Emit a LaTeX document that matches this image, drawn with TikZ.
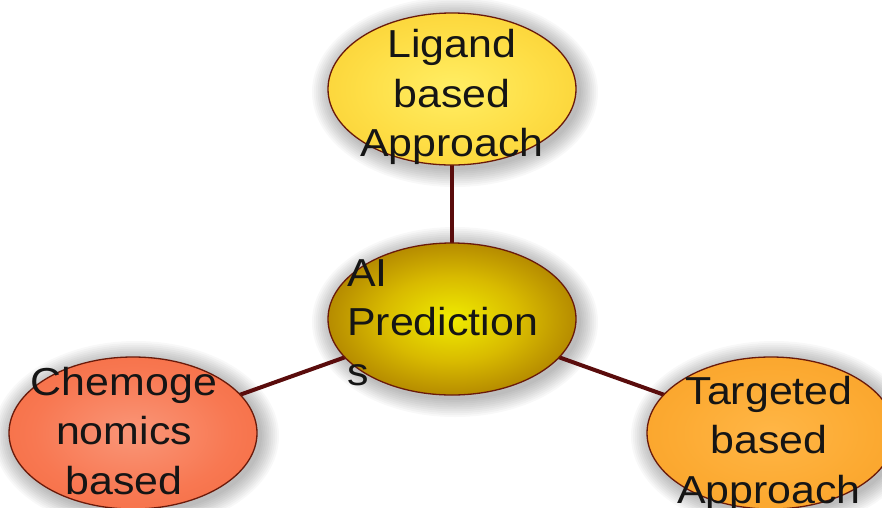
\documentclass[tikz,border=0pt]{standalone}
\usepackage{fontspec}
\setmainfont{Liberation Sans}[FakeStretch=1.1]
\usetikzlibrary{shapes.geometric,backgrounds}

\definecolor{edgecol}{HTML}{6A1A0A}
\definecolor{linkcol}{HTML}{5A0C0C}
\definecolor{inkcol}{HTML}{151515}

% radial fills, scaled to each ellipse (50bp = rim)
\pgfdeclareradialshading{ligfill}{\pgfpoint{0bp}{0bp}}{%
  color(0bp)=(rgb,255:red,255;green,238;blue,100);
  color(18bp)=(rgb,255:red,254;green,222;blue,70);
  color(50bp)=(rgb,255:red,244;green,190;blue,28)}
\pgfdeclareradialshading{aifill}{\pgfpoint{0bp}{0bp}}{%
  color(0bp)=(rgb,255:red,240;green,236;blue,0);
  color(14bp)=(rgb,255:red,216;green,186;blue,0);
  color(32bp)=(rgb,255:red,160;green,110;blue,0);
  color(50bp)=(rgb,255:red,96;green,54;blue,0)}
\pgfdeclareradialshading{chemfill}{\pgfpoint{0bp}{0bp}}{%
  color(0bp)=(rgb,255:red,250;green,150;blue,120);
  color(20bp)=(rgb,255:red,248;green,120;blue,82);
  color(50bp)=(rgb,255:red,240;green,94;blue,46)}
\pgfdeclareradialshading{targfill}{\pgfpoint{0bp}{0bp}}{%
  color(0bp)=(rgb,255:red,255;green,182;blue,70);
  color(20bp)=(rgb,255:red,252;green,170;blue,50);
  color(50bp)=(rgb,255:red,244;green,152;blue,30)}

\tikzset{
  bubble/.style={ellipse, draw=edgecol, line width=1.3pt,
    minimum width=248pt, minimum height=152pt, inner sep=0pt},
  bubbletext/.style={inner sep=0pt, text=inkcol,
    font=\fontsize{39}{49.5}\selectfont},
  link/.style={draw=linkcol, line width=4pt},
}

\begin{document}
\begin{tikzpicture}[x=1pt,y=-1pt]
  \useasboundingbox (0,0) rectangle (882,507);

  % the four ellipses
  \node[bubble, shading=ligfill]  (lig)  at (452,89)  {};
  \node[bubble, shading=aifill]   (ai)   at (452,319) {};
  \node[bubble, shading=chemfill] (chem) at (133,433) {};
  \node[bubble, shading=targfill] (targ) at (771,433) {};

  % white page, soft grey glow behind each ellipse, then the connectors
  \begin{scope}[on background layer]
    \fill[white] (0,0) rectangle (882,507);
    \foreach \n in {lig,ai,chem,targ}{
      \foreach \k in {1,...,10}{
        \fill[black, opacity=0.028]
          ([shift={(3pt,-3pt)}]\n.center)
          ellipse [x radius={(124+1.9*\k)*1pt}, y radius={(76+1.9*\k)*1pt}];
      }
    }
    \draw[link] (ai.center) -- (lig.center);
    \draw[link] (ai.center) -- (chem.center);
    \draw[link] (ai.center) -- (targ.center);
  \end{scope}

  % labels
  \node[bubbletext, align=center, anchor=north] (ligT) at (452,29.5)
    {Ligand\\based\\Approach};
  \node[bubbletext, align=left, anchor=north west] (aiT) at (347,259)
    {AI\\Prediction\\s};
  \node[bubbletext, align=center, anchor=north] (chemT) at (124,367)
    {Chemoge\\nomics\\based};
  \node[bubbletext, align=center, anchor=north] (targT) at (769,376)
    {Targeted\\based\\Approach};
\end{tikzpicture}
\end{document}
